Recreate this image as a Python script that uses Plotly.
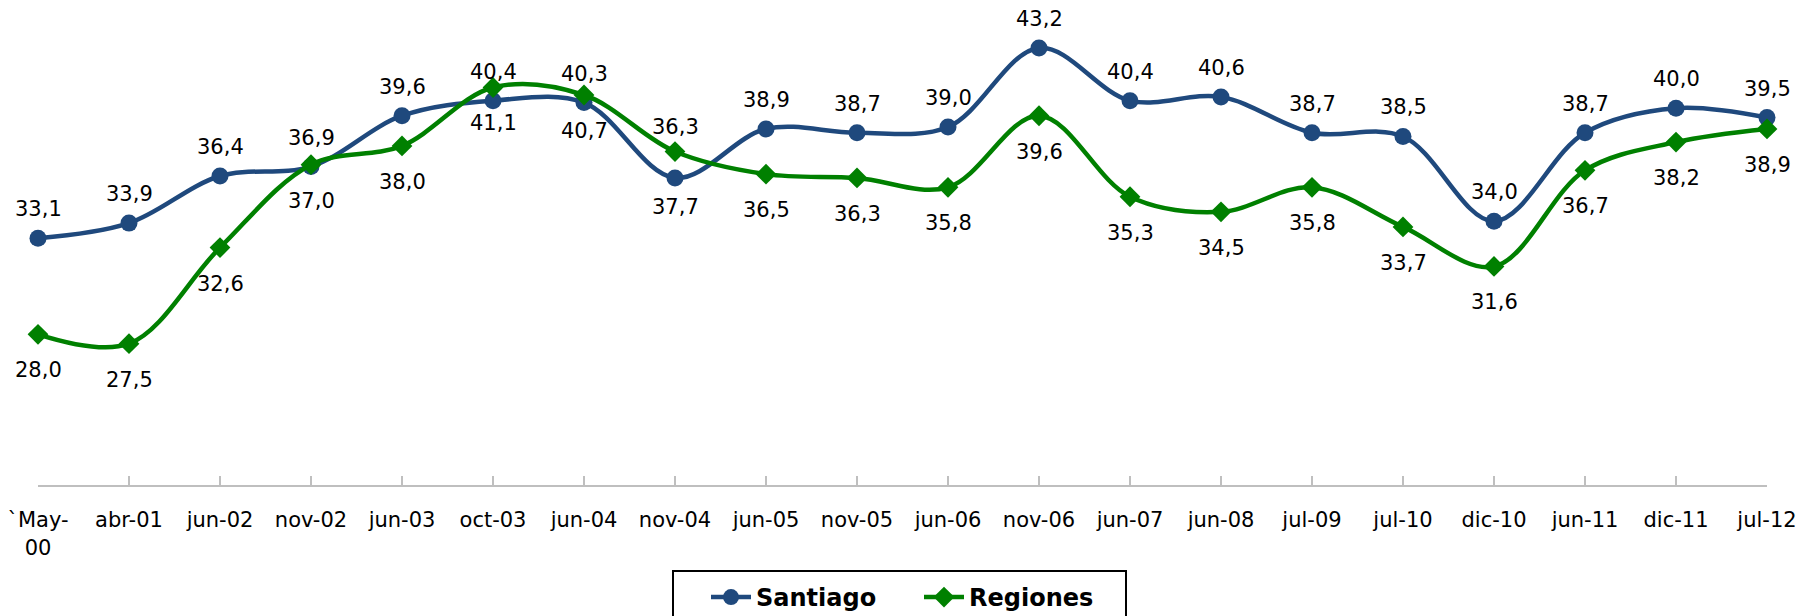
import plotly.graph_objects as go

categories = ["`May-<br>00", "abr-01", "jun-02", "nov-02", "jun-03", "oct-03", "jun-04",
              "nov-04", "jun-05", "nov-05", "jun-06", "nov-06", "jun-07", "jun-08",
              "jul-09", "jul-10", "dic-10", "jun-11", "dic-11", "jul-12"]
santiago = [33.1, 33.9, 36.4, 36.9, 39.6, 40.4, 40.3, 36.3, 38.9, 38.7,
            39.0, 43.2, 40.4, 40.6, 38.7, 38.5, 34.0, 38.7, 40.0, 39.5]
regiones = [28.0, 27.5, 32.6, 37.0, 38.0, 41.1, 40.7, 37.7, 36.5, 36.3,
            35.8, 39.6, 35.3, 34.5, 35.8, 33.7, 31.6, 36.7, 38.2, 38.9]

BLUE = "#1F497D"
GREEN = "#008000"
FONT = "DejaVu Sans"

# the page body adds an 8px offset, so the figure is 8px smaller than the window
W, H = 1812, 608
ML, MR, MT, MB = 30, 53, 6, 131
PW, PH = W - ML - MR, H - MT - MB

def px_x(p):
    return (p - ML) / PW

def px_y(p):
    return (H - MB - p) / PH

x = list(range(len(categories)))

fig = go.Figure()
fig.add_trace(go.Scatter(
    x=x, y=santiago, name="Santiago", mode="lines+markers",
    line=dict(color=BLUE, width=4.5, shape="spline", smoothing=1),
    marker=dict(symbol="circle", size=17, color=BLUE),
    cliponaxis=False,
))
fig.add_trace(go.Scatter(
    x=x, y=regiones, name="Regiones", mode="lines+markers",
    line=dict(color=GREEN, width=4.5, shape="spline", smoothing=1),
    marker=dict(symbol="diamond", size=16, color=GREEN),
    cliponaxis=False,
))

def fmt(v):
    return f"{v:.1f}".replace(".", ",")

# label offsets (pixels): Santiago above, Regiones below; nov-04 moved further
s_shift = {7: 51}
r_shift = {7: -55}
annotations = []
for i, v in enumerate(santiago):
    annotations.append(dict(x=i, y=v, xref="x", yref="y", text=fmt(v), showarrow=False,
                            yshift=s_shift.get(i, 29),
                            font=dict(family=FONT, size=21, color="#000000")))
for i, v in enumerate(regiones):
    annotations.append(dict(x=i, y=v, xref="x", yref="y", text=fmt(v), showarrow=False,
                            yshift=r_shift.get(i, -36),
                            font=dict(family=FONT, size=21, color="#000000")))

# legend frame
shapes = [dict(type="rect", xref="paper", yref="paper",
               x0=px_x(665), x1=px_x(1118), y0=px_y(563), y1=px_y(640),
               line=dict(color="#000000", width=2), fillcolor="white", layer="below")]

fig.update_layout(
    width=W, height=H,
    margin=dict(l=ML, r=MR, t=MT, b=MB, autoexpand=False),
    paper_bgcolor="white", plot_bgcolor="white",
    annotations=annotations,
    shapes=shapes,
    showlegend=True,
    legend=dict(orientation="h", x=px_x(698), xanchor="left", y=px_y(567), yanchor="top",
                borderwidth=0, bgcolor="rgba(0,0,0,0)",
                font=dict(family=FONT, size=24, color="#000000", weight="bold"),
                itemwidth=40, entrywidth=158),
    font=dict(family=FONT),
)
fig.update_xaxes(
    range=[0, 19], tickmode="array", tickvals=x, ticktext=categories,
    showline=True, linecolor="#BFBFBF", linewidth=2,
    ticks="inside", ticklen=9, tickcolor="#BFBFBF", tickwidth=2,
    showgrid=False, zeroline=False, automargin=False,
    tickfont=dict(family=FONT, size=21, color="#000000"),
    ticklabelstandoff=15, ticklabeloverflow="allow",
)
fig.update_yaxes(range=[20, 45], visible=False, showgrid=False, zeroline=False,
                 automargin=False)

fig.write_html("out.html")
